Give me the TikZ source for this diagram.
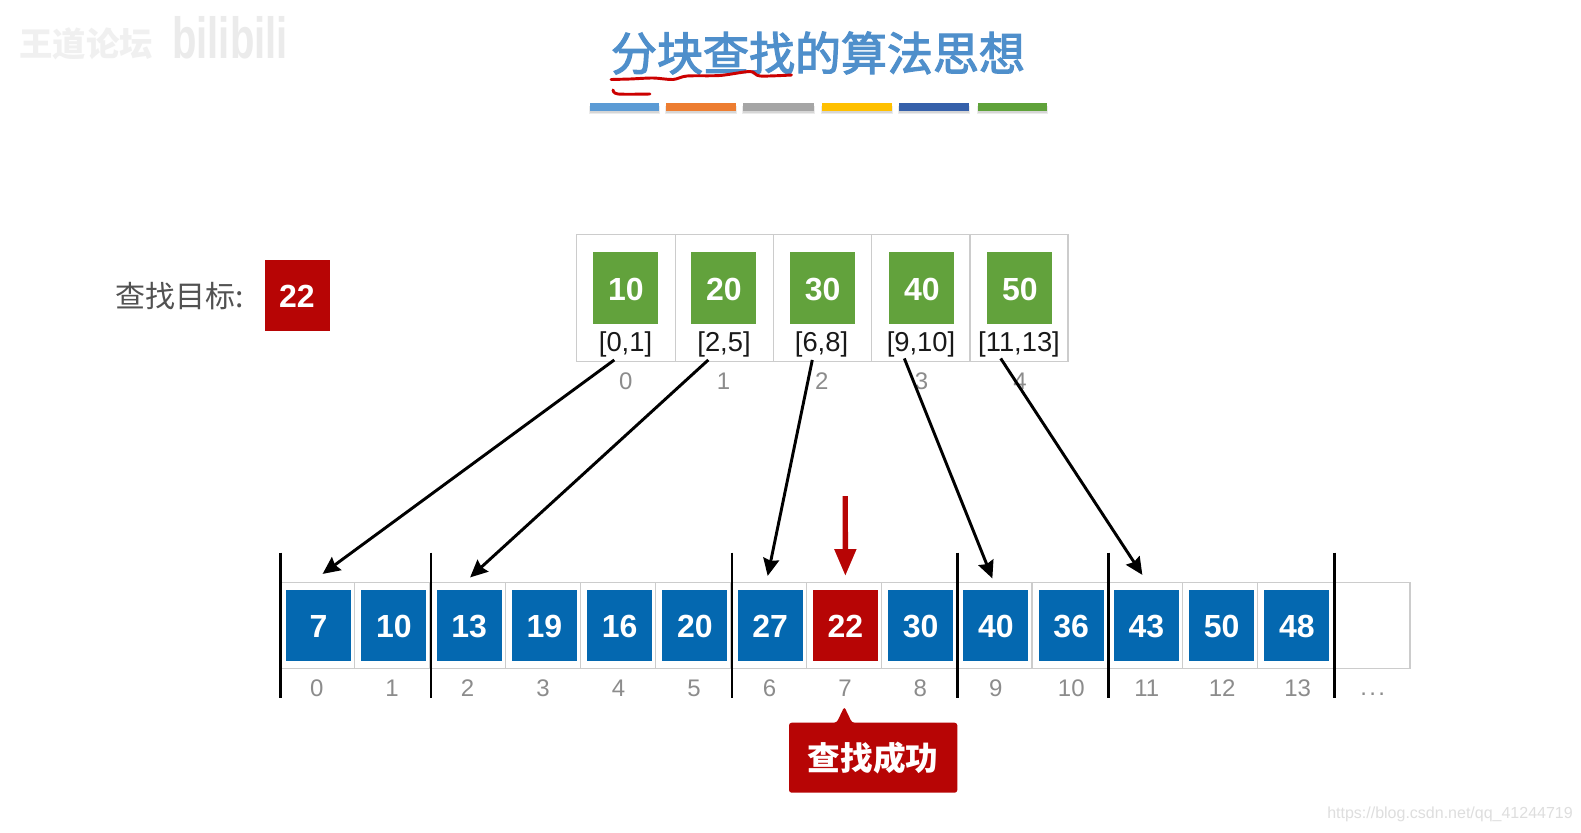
\documentclass[tikz,border=0pt]{standalone}
\usepackage{fontspec}
\setmainfont{Liberation Sans}
\newfontfamily\cjk{Noto Sans CJK SC}
\newfontfamily\cjkmid[FakeBold=2.6]{Noto Sans CJK SC}
\usetikzlibrary{arrows.meta,calc}
\definecolor{cellblue}{HTML}{0468B0}
\definecolor{cellgreen}{HTML}{62A23C}
\definecolor{cellred}{HTML}{B70505}
\definecolor{titleblue}{HTML}{4F8FCB}
\definecolor{gridgray}{HTML}{CCCCCC}
\definecolor{idxgray}{HTML}{8C8C8C}
\tikzset{
  x=0.75pt,y=-0.75pt,
  bigtxt/.style={font=\fontsize{24}{24}\selectfont\bfseries,text=white,inner sep=0pt,minimum width=48.75pt,align=center,text height=18pt,text depth=0pt},
  bluebox/.style={bigtxt,fill=cellblue,minimum height=53pt},
  greenbox/.style={bigtxt,fill=cellgreen,minimum height=53.5pt},
  redbox/.style={bigtxt,fill=cellred,minimum height=53pt},
  gridline/.style={draw=gridgray,line width=1pt},
  bar/.style={draw=black,line width=2pt},
  idx/.style={font=\fontsize{18}{18}\selectfont,text=idxgray,inner sep=0pt},
  rangelab/.style={font=\fontsize{20.5}{20.5}\selectfont,text=black!90,inner sep=0pt},
  ptr/.style={draw=black,line width=2.2pt,-{Stealth[length=13pt,width=12pt,inset=1.5pt]}},
  redptr/.style={draw=cellred,line width=4pt,-{Triangle[length=20pt,width=15.5pt]}},
  scribble/.style={draw=red!80!black,line width=2.2pt,line cap=round,line join=round},
}
\begin{document}
\begin{tikzpicture}
\useasboundingbox (0,0) rectangle (1581,832);
\fill[white] (0,0) rectangle (1581,832);
% watermarks
\node[font=\cjk\fontsize{25}{25}\selectfont\bfseries,text=black!6,inner sep=0pt] (wmA) at (86,44) {王道论坛};
\node[font=\fontsize{30}{30}\selectfont\bfseries,text=black!8,inner sep=0pt] (wmB) at (230,38) {\scalebox{1}[1.45]{bilibili}};
\node[font=\fontsize{12}{12}\selectfont,text=black!13,inner sep=0pt] (wmC) at (1450,814) {https://blog.csdn.net/qq\_41244719};
% title
\node[font=\cjkmid\fontsize{34.5}{34.5}\selectfont,text=titleblue,inner sep=0pt] (title) at (818,53) {分块查找的算法思想};
\draw[scribble] plot[smooth,tension=.5] coordinates {(611,79.5) (630,79) (653,78) (673,79.5) (687,76) (720,75.5) (750,71.5) (760,76) (791.5,75)};
\draw[scribble] plot[smooth,tension=.5] coordinates {(613,90) (618,94) (650,94)};
% colour bars
\foreach \xa/\xb/\c in {590.3/659.3/5B9BD5,665.7/735.7/ED7D31,743.3/814/A5A5A5,822/892.3/FFC000,898.7/969/3560AA,978.3/1047.3/5FA23A}{
  \fill[black!8] (\xa-1,105.5) rectangle (\xb+1,114);
  \fill[black!16] (\xa,105.5) rectangle (\xb,112.5);
  \definecolor{tmpc}{HTML}{\c}
  \fill[tmpc] (\xa,103.3) rectangle (\xb,110.7);
}
% target
\node[font=\cjk\fontsize{22.5}{22.5}\selectfont,text=black!68,inner sep=0pt] (tlabel) at (180,296) {查找目标:};
\node[redbox] (target) at (297,295.5) {22};
% index table
\draw[gridline] (576.7,234.3) rectangle (1068,361.7);
\foreach \x in {675.3,773.3,871.7,970} \draw[gridline] (\x,234.3) -- (\x,361.7);
\node[greenbox] (t0) at (625.8,288) {10};
\node[greenbox] (t1) at (723.8,288) {20};
\node[greenbox] (t2) at (822.6,288) {30};
\node[greenbox] (t3) at (921.8,288) {40};
\node[greenbox] (t4) at (1019.8,288) {50};
\node[rangelab] (r0) at (625.5,344) {[0,1]};
\node[rangelab] (r1) at (724,344) {[2,5]};
\node[rangelab] (r2) at (821.5,344) {[6,8]};
\node[rangelab] (r3) at (921,344) {[9,10]};
\node[rangelab] (r4) at (1019,344) {[11,13]};
\foreach \i/\x in {0/625.7,1/723.5,2/821.7,3/921.5,4/1020} \node[idx] (ti\i) at (\x,381) {\i};
% main table
\draw[gridline] (281,582.7) rectangle (1410,668.3);
\foreach \k in {0,...,12} \draw[gridline] ({354.7+75.25*\k},582.7) -- ({354.7+75.25*\k},668.3);
\foreach \i/\v in {0/7,1/10,2/13,3/19,4/16,5/20,6/27,8/30,9/40,10/36,11/43,12/50,13/48}{
  \node[bluebox] (b\i) at ({318.6+75.25*\i},625.5) {\v};
}
\node[redbox] (b7) at ({318.6+75.25*7},625.5) {22};
\foreach \i in {0,...,13} \node[idx] (bi\i) at ({316.7+75.46*\i},688) {\i};
\node[idx] (bidots) at (1372.7,694) {.\kern1.8pt.\kern1.8pt.};
% block separators
\foreach \x in {280.7,431,732,957.7,1108.7,1334.7} \draw[bar] (\x,552.7) -- (\x,698.3);
% pointers
\draw[ptr] ($(t0.south)+(-11.5,36)$) -- ($(b0.north)+(4,-16)$);
\draw[ptr] ($(t1.south)+(-15.5,36)$) -- ($(b2.north)+(1,-12.5)$);
\draw[ptr] ($(t2.south)+(-10.3,36)$) -- ($(b6.north)+(-2.4,-14)$);
\draw[ptr] ($(t3.south)+(-17.5,34.5)$) -- ($(b9.north)+(-3.5,-11.5)$);
\draw[ptr] ($(t4.south)+(-19.1,34.5)$) -- ($(b11.north)+(-4,-15)$);
\coordinate (redstart) at (845.3,496);
\draw[redptr] (redstart) -- ($(b7.north)+(0,-14)$);
% callout
\path[fill=cellred,rounded corners=2pt] (789,722.7) -- (836.7,722.7) -- (844.3,706.7) -- (852,722.7) -- (957.3,722.7) -- (957.3,792.7) -- (789,792.7) -- cycle;
\node[font=\cjk\fontsize{24.5}{24.5}\selectfont\bfseries,text=white,inner sep=0pt] (okmsg) at (873.3,758) {查找成功};
\end{tikzpicture}
\end{document}
